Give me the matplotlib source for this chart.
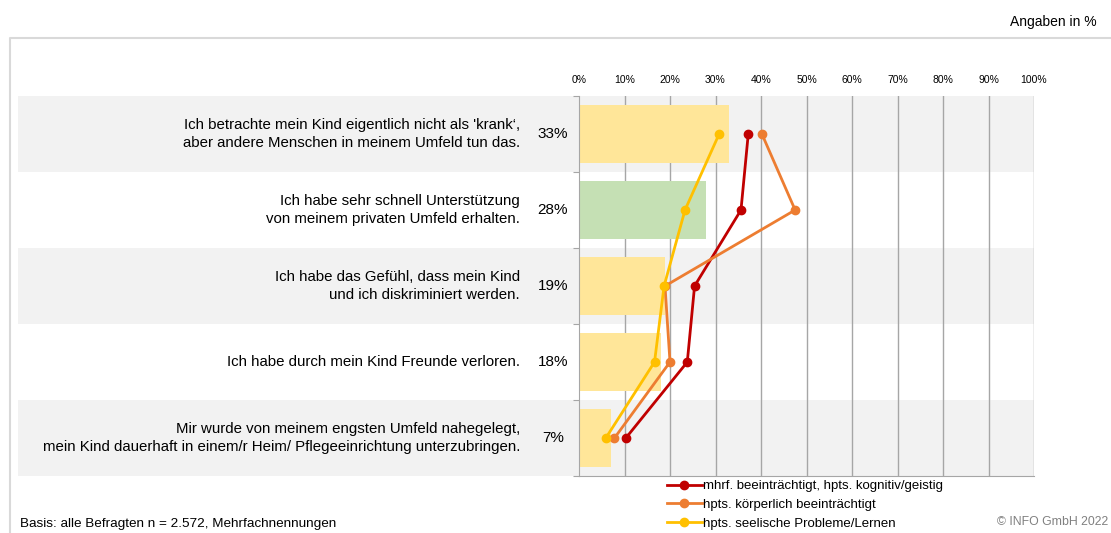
import matplotlib.pyplot as plt
from matplotlib.patches import Rectangle
import numpy as np

plt.rcParams['font.family'] = ['Liberation Sans', 'DejaVu Sans']

statements = [
    "Ich betrachte mein Kind eigentlich nicht als 'krank‘,\naber andere Menschen in meinem Umfeld tun das.",
    "Ich habe sehr schnell Unterstützung\nvon meinem privaten Umfeld erhalten.",
    "Ich habe das Gefühl, dass mein Kind\nund ich diskriminiert werden.",
    "Ich habe durch mein Kind Freunde verloren.",
    "Mir wurde von meinem engsten Umfeld nahegelegt,\nmein Kind dauerhaft in einem/r Heim/ Pflegeeinrichtung unterzubringen.",
]
total = [33, 28, 19, 18, 7]
bar_colors = ["#FFE699", "#C5E0B4", "#FFE699", "#FFE699", "#FFE699"]
kognitiv = [37.2, 35.6, 25.4, 23.8, 10.3]
koerperlich = [40.2, 47.5, 18.9, 20.0, 7.8]
seelisch = [30.8, 23.3, 18.7, 16.6, 5.9]
series = [
    ("mhrf. beeinträchtigt, hpts. kognitiv/geistig", kognitiv, "#C00000"),
    ("hpts. körperlich beeinträchtigt", koerperlich, "#ED7D31"),
    ("hpts. seelische Probleme/Lernen", seelisch, "#FFC000"),
]
ticks = np.arange(0, 101, 10)

W, H = 1111, 533
fig = plt.figure(figsize=(W / 100, H / 100), dpi=100)

# background layer in pixel coords
bg = fig.add_axes([0, 0, 1, 1])
bg.set_xlim(0, W)
bg.set_ylim(H, 0)
bg.axis("off")
bg.plot([10, 10, W], [H, 38, 38], color="#D9D9D9", lw=1.5)
row_h = 76
top = 96
for i in range(len(statements)):
    y0 = top + i * row_h
    if i % 2 == 0:
        bg.add_patch(Rectangle((18, y0), 1034 - 18, row_h, color="#F2F2F2", lw=0, zorder=0))
    yc = y0 + row_h / 2
    bg.text(520, yc, statements[i], ha="right", va="center", fontsize=10.8,
            linespacing=1.3)
    bg.text(553, yc, f"{total[i]}%", ha="center", va="center", fontsize=11)

bg.text(1097, 22, "Angaben in %", ha="right", va="center", fontsize=10)
bg.text(20, 524, "Basis: alle Befragten n = 2.572, Mehrfachnennungen",
        ha="left", va="center", fontsize=9.7)
bg.text(1108, 522, "© INFO GmbH 2022", ha="right", va="center",
        fontsize=8.8, color="#808080")

# main axes
x0, x1 = 579, 1034
y_top, y_bot = 96, 476
ax = fig.add_axes([x0 / W, 1 - y_bot / H, (x1 - x0) / W, (y_bot - y_top) / H])
ax.patch.set_alpha(0)
ax.set_xlim(0, 100)
ax.set_ylim(len(statements) - 0.5, -0.5)
y = np.arange(len(statements))
ax.barh(y, total, height=0.77, color=bar_colors, zorder=2)
for x in ticks[1:]:
    ax.axvline(x, color="#A6A6A6", lw=1, zorder=1)
for name, vals, col in series:
    ax.plot(vals, y, color=col, lw=2, marker="o", ms=6, label=name, zorder=3)

ax.xaxis.tick_top()
ax.set_xticks(ticks)
ax.set_xticklabels([f"{t}%" for t in ticks], fontsize=7.5)
ax.tick_params(axis="x", length=0, pad=8)
ax.set_yticks(np.arange(-0.5, len(statements), 1))
ax.set_yticklabels([])
ax.tick_params(axis="y", length=4, color="#A6A6A6", direction="out")
for s in ["top", "right"]:
    ax.spines[s].set_visible(False)
ax.spines["left"].set_color("#A6A6A6")
ax.spines["bottom"].set_color("#A6A6A6")

fig.legend(loc="upper left", bbox_to_anchor=(667 / W, 1 - 480 / H),
           frameon=False, fontsize=9.5, handlelength=2.65, handletextpad=0.1,
           labelspacing=0.5, borderpad=0, borderaxespad=0)

fig.savefig("out.png", dpi=100)
